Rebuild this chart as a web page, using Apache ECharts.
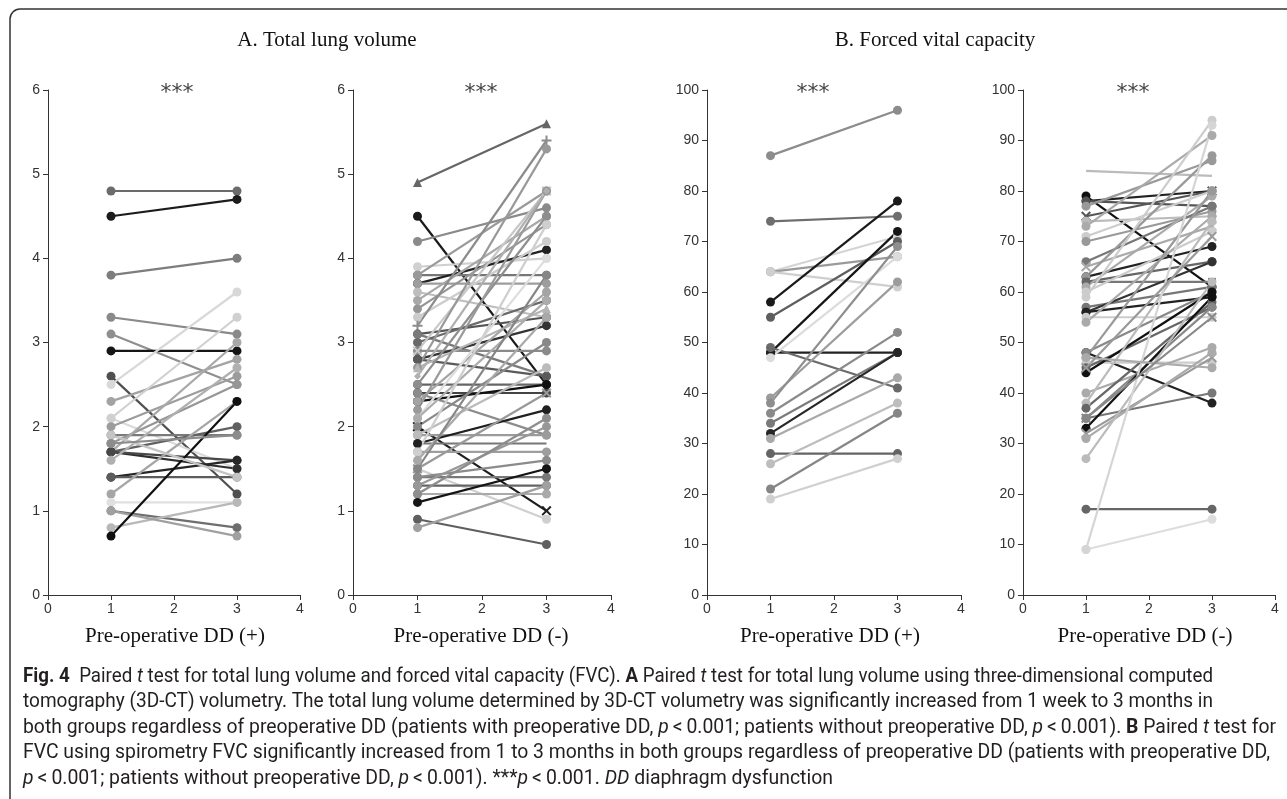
<!DOCTYPE html>
<html><head><meta charset="utf-8">
<script src="https://cdn.jsdelivr.net/npm/echarts@6/dist/echarts.min.js"></script>
<style>html,body{margin:0;padding:0;background:#fff}#c{width:1287px;height:799px}</style>
</head><body><div id="c"></div><script>
// ---------- DATA ----------
const timepoints = [1, 3];
const xTickLabels = ['0','1','2','3','4'];
const panelTitles = ['A. Total lung volume', 'B. Forced vital capacity'];
const xAxisNames = ['Pre-operative DD (+)', 'Pre-operative DD (-)', 'Pre-operative DD (+)', 'Pre-operative DD (-)'];
const significance = ['***', '***', '***', '***'];

// A: total lung volume, DD(+)
const tlvPosBefore = [4.8,4.5,3.8,3.3,3.1,2.9,2.6,2.5,2.3,2.1,2.1,2.0,1.9,1.8,1.7,1.7,1.7,1.7,1.6,1.4,1.4,1.2,1.1,1.0,0.8,1.0,0.7,1.9,1.8];
const tlvPosAfter  = [4.8,4.7,4.0,3.1,2.5,2.9,1.2,3.6,2.8,1.5,3.3,2.6,1.9,2.5,3.0,2.0,1.5,1.6,2.7,1.6,1.4,2.3,1.1,0.8,1.1,0.7,2.3,1.4,1.9];
// A: total lung volume, DD(-)
const tlvNegBefore = [4.9,4.5,4.2,3.9,3.8,3.8,3.7,3.7,3.6,3.5,3.4,3.3,3.2,3.1,3.1,3.0,2.9,2.9,2.8,2.8,2.7,2.7,2.5,2.5,2.4,2.4,2.3,2.3,2.2,2.1,2.1,2.0,2.0,1.9,1.9,1.8,1.8,1.7,1.7,1.6,1.5,1.5,1.5,1.4,1.4,1.3,1.3,1.2,1.2,1.1,0.9,0.8,2.6];
const tlvNegAfter  = [5.6,2.5,4.6,4.0,3.8,4.8,4.1,3.7,3.3,4.5,4.4,4.2,5.4,3.3,2.6,3.5,2.9,4.8,3.2,2.6,5.3,3.4,2.5,4.5,2.4,1.9,2.5,3.6,4.8,4.0,3.5,1.0,3.0,1.9,2.7,2.2,1.8,1.7,4.4,3.3,0.9,2.4,3.8,1.4,1.6,1.3,2.0,1.2,2.1,1.5,0.6,1.3,4.8];
// B: FVC, DD(+)
const fvcPosBefore = [87,74,64,64,64,58,55,48,48,49,47,39,38,36,34,32,31,28,26,21,19];
const fvcPosAfter  = [96,75,71,67,61,78,70,72,48,41,67,62,69,52,48,48,43,28,38,36,27];
// B: FVC, DD(-)
const fvcNegBefore = [84,79,78,78,77,75,74,73,71,70,66,65,63,63,62,62,61,60,59,57,56,56,55,54,48,48,47,46,45,44,40,38,37,35,35,33,32,31,27,17,9,9,47,45,35];
const fvcNegAfter  = [83,61,80,77,86,80,75,91,80,76,77,73,69,87,62,66,79,72,94,61,66,59,55,75,38,60,80,46,57,60,49,74,58,40,57,59,47,48,62,17,15,93,45,71,55];

// ---------- STYLES (kept apart from data) ----------
const tlvPosColors = ['#6b6b6b','#1c1c1c','#7d7d7d','#8a8a8a','#8f8f8f','#151515','#505050','#d8d8d8','#a3a3a3','#dadada','#d0d0d0','#9c9c9c','#7a7a7a','#969696','#a8a8a8','#606060','#2e2e2e','#484848','#b0b0b0','#262626','#5c5c5c','#a6a6a6','#e0e0e0','#6e6e6e','#b8b8b8','#a0a0a0','#101010','#c4c4c4','#8c8c8c'];
const tlvPosSyms = 'ooooooooooooooooooooooooooooo';
const tlvNegColors = ['#666666','#1a1a1a','#8a8a8a','#d0d0d0','#777777','#9a9a9a','#222222','#9d9d9d','#bdbdbd','#a8a8a8','#959595','#cccccc','#8c8c8c','#555555','#7a7a7a','#6a6a6a','#8a8a8a','#c8c8c8','#333333','#5a5a5a','#999999','#b5b5b5','#666666','#8e8e8e','#444444','#8c8c8c','#111111','#a4a4a4','#9a9a9a','#dddddd','#acacac','#1e1e1e','#888888','#9b9b9b','#bbbbbb','#202020','#777777','#9e9e9e','#cfcfcf','#a9a9a9','#cfcfcf','#999999','#868686','#787878','#8b8b8b','#646464','#979797','#aaaaaa','#8d8d8d','#151515','#5f5f5f','#a0a0a0','#b0b0b0'];
const tlvNegSyms = 'tooooooooooo+ooooxoootoooooooooxoooonooooxoooooooooodoo';
const fvcPosColors = ['#8c8c8c','#6e6e6e','#d4d4d4','#9a9a9a','#cfcfcf','#1a1a1a','#5e5e5e','#151515','#222222','#6a6a6a','#dcdcdc','#9c9c9c','#8e8e8e','#8a8a8a','#7a7a7a','#262626','#a9a9a9','#646464','#bdbdbd','#868686','#d0d0d0'];
const fvcPosSyms = 'ooooooooooooooooooooo';
const fvcNegColors = ['#bbbbbb','#111111','#222222','#555555','#999999','#555555','#bbbbbb','#aaaaaa','#cccccc','#999999','#777777','#aaaaaa','#222222','#999999','#777777','#666666','#aaaaaa','#cccccc','#cccccc','#777777','#333333','#222222','#cccccc','#aaaaaa','#222222','#888888','#999999','#cccccc','#666666','#111111','#aaaaaa','#bbbbbb','#666666','#777777','#888888','#111111','#999999','#aaaaaa','#bbbbbb','#666666','#dddddd','#d5d5d5','#aaaaaa','#999999','#888888'];
const fvcNegSyms = 'nooooxoooooxoosoooooooooooooooooooooxooooooxxooo';

const symMap = {
  o: 'circle', t: 'triangle', s: 'rect', d: 'diamond', n: 'none',
  '+': 'path://M4,0H6V4H10V6H6V10H4V6H0V4H4Z',
  x: 'path://M1.4,0L5,3.6L8.6,0L10,1.4L6.4,5L10,8.6L8.6,10L5,6.4L1.4,10L0,8.6L3.6,5L0,1.4Z'
};
const symSize = { o: 9, t: 9, s: 8, d: 7, n: 0, '+': 10, x: 10 };

const grids = [
  {left: 48, top: 90, width: 252, height: 505},
  {left: 353, top: 90, width: 258, height: 505},
  {left: 707, top: 90, width: 254, height: 505},
  {left: 1023, top: 90, width: 252, height: 505}
];
const yMax = [6, 6, 100, 100];
const yInt = [1, 1, 10, 10];

function panelSeries(idx, before, after, colors, syms) {
  return before.map((b, i) => {
    const k = syms[i] || 'o';
    return {
      type: 'line', xAxisIndex: idx, yAxisIndex: idx,
      data: [[timepoints[0], b], [timepoints[1], after[i]]],
      symbol: symMap[k], symbolSize: symSize[k], showSymbol: k !== 'n',
      lineStyle: {color: colors[i], width: 2.2},
      itemStyle: {color: colors[i]},
      silent: true, animation: false
    };
  });
}

const series = [].concat(
  panelSeries(0, tlvPosBefore, tlvPosAfter, tlvPosColors, tlvPosSyms),
  panelSeries(1, tlvNegBefore, tlvNegAfter, tlvNegColors, tlvNegSyms),
  panelSeries(2, fvcPosBefore, fvcPosAfter, fvcPosColors, fvcPosSyms),
  panelSeries(3, fvcNegBefore, fvcNegAfter, fvcNegColors, fvcNegSyms)
);

const axisCommon = {
  axisLine: {show: true, lineStyle: {color: '#333', width: 1}},
  axisTick: {show: true, length: 5, lineStyle: {color: '#333'}},
  splitLine: {show: false},
  axisLabel: {color: '#333', fontSize: 14, fontFamily: 'Liberation Sans, Arial, sans-serif'}
};
const xAxes = grids.map((g, i) => Object.assign({}, axisCommon, {
  gridIndex: i, type: 'value', min: 0, max: 4, interval: 1,
  axisLabel: Object.assign({}, axisCommon.axisLabel, {margin: 7, formatter: v => xTickLabels[v]})
}));
const yAxes = grids.map((g, i) => Object.assign({}, axisCommon, {
  gridIndex: i, type: 'value', min: 0, max: yMax[i], interval: yInt[i],
  axisLabel: Object.assign({}, axisCommon.axisLabel, {margin: 8})
}));

// ---------- caption ----------
const LT = '\u2009<\u2009';
const captionLines = [
  [['b','Fig. 4'],['n','  Paired '],['i','t'],['n',' test for total lung volume and forced vital capacity (FVC). '],['b','A'],['n',' Paired '],['i','t'],['n',' test for total lung volume using three-dimensional computed']],
  [['n','tomography (3D-CT) volumetry. The total lung volume determined by 3D-CT volumetry was significantly increased from 1 week to 3 months in']],
  [['n','both groups regardless of preoperative DD (patients with preoperative DD, '],['i','p'],['n',LT+'0.001; patients without preoperative DD, '],['i','p'],['n',LT+'0.001). '],['b','B'],['n',' Paired '],['i','t'],['n',' test for']],
  [['n','FVC using spirometry FVC significantly increased from 1 to 3 months in both groups regardless of preoperative DD (patients with preoperative DD,']],
  [['i','p'],['n',LT+'0.001; patients without preoperative DD, '],['i','p'],['n',LT+'0.001). ***'],['i','p'],['n',LT+'0.001. '],['i','DD'],['n',' diaphragm dysfunction']]
];
const capWidths = [1190, 1190, 1253, 1247, 810];
const capY = [677, 702, 728, 753, 779];
const capFam = 'Roboto, sans-serif';
const capSize = 20;
const capStyles = {
  n: {fontWeight: 'normal', fontStyle: 'normal'},
  b: {fontWeight: 'bold', fontStyle: 'normal'},
  i: {fontWeight: 'normal', fontStyle: 'italic'}
};
const mctx = document.createElement('canvas').getContext('2d');
function segWidth(seg) {
  const st = capStyles[seg[0]];
  mctx.font = st.fontStyle + ' ' + st.fontWeight + ' ' + capSize + 'px ' + capFam;
  return mctx.measureText(seg[1]).width;
}
const rich = {};
Object.keys(capStyles).forEach(k => {
  rich[k] = {fontFamily: capFam, fontSize: capSize, fontWeight: capStyles[k].fontWeight, fontStyle: capStyles[k].fontStyle, fill: '#231f20'};
});
const esc = s => s.replace(/[{}|]/g, '');
const captionGraphics = captionLines.map((line, i) => {
  const w = line.reduce((a, s) => a + segWidth(s), 0);
  return {
    type: 'text', x: 23, y: capY[i], scaleX: capWidths[i] / w, silent: true,
    style: {
      text: line.map(s => '{' + s[0] + '|' + esc(s[1]) + '}').join(''),
      rich: rich, fill: '#231f20', verticalAlign: 'middle',
      font: capSize + 'px ' + capFam
    }
  };
});

const serif = 'Liberation Serif, Times New Roman, serif';
const titleGraphics = [
  {type: 'text', x: 327, y: 40, style: {text: panelTitles[0], font: '21px ' + serif, fill: '#111', align: 'center', verticalAlign: 'middle'}},
  {type: 'text', x: 935, y: 40, style: {text: panelTitles[1], font: '21px ' + serif, fill: '#111', align: 'center', verticalAlign: 'middle'}}
];
const nameX = [175, 481, 830, 1145];
const starX = [177, 481, 813, 1133];
const nameGraphics = xAxisNames.map((t, i) => ({
  type: 'text', x: nameX[i], y: 636,
  style: {text: t, font: '21px ' + serif, fill: '#111', align: 'center', verticalAlign: 'middle'}
}));
const starGraphics = significance.map((t, i) => ({
  type: 'text', x: starX[i], y: 93,
  style: {text: t, font: '22px DejaVu Sans, sans-serif', fill: '#444', align: 'center', verticalAlign: 'middle'}
}));
const border = {
  type: 'rect', shape: {x: 10, y: 9, width: 1400, height: 900, r: 10}, silent: true,
  style: {fill: 'none', stroke: '#333', lineWidth: 1.5}
};

const chart = echarts.init(document.getElementById('c'), null, {renderer: 'canvas'});
chart.setOption({
  animation: false,
  backgroundColor: '#fff',
  grid: grids,
  xAxis: xAxes,
  yAxis: yAxes,
  series: series,
  graphic: [border].concat(titleGraphics, nameGraphics, starGraphics, captionGraphics)
});
</script></body></html>
